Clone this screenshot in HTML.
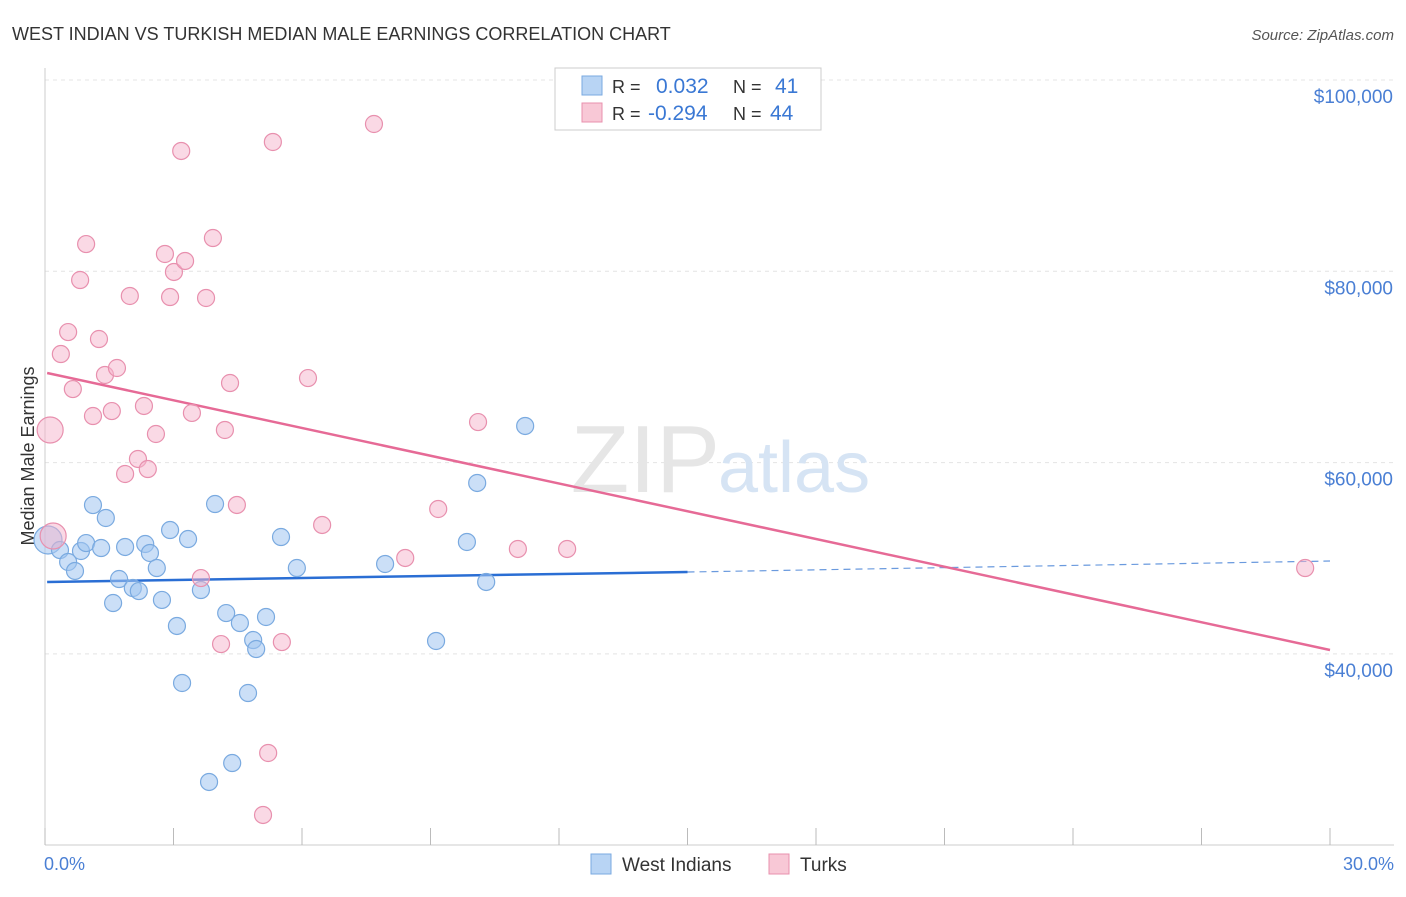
<!DOCTYPE html>
<html><head><meta charset="utf-8"><style>
body{margin:0;background:#fff;font-family:"Liberation Sans",sans-serif;}
svg text{font-family:"Liberation Sans",sans-serif;}
</style></head><body>
<svg id="c" width="1406" height="892">
<text x="12" y="40" font-size="18" fill="#333">WEST INDIAN VS TURKISH MEDIAN MALE EARNINGS CORRELATION CHART</text>
<text x="1394" y="40" font-size="15" fill="#555" font-style="italic" text-anchor="end">Source: ZipAtlas.com</text>
<g id="grid"></g>
<text x="720" y="492" font-size="96" fill="#e6e6e6" text-anchor="end" font-family="Liberation Serif">ZIP</text>
<text x="718" y="492" font-size="72" fill="#d6e4f4">atlas</text>
<line x1="45" y1="68" x2="45" y2="845" stroke="#ccc"/>
<line x1="45" y1="845" x2="1394" y2="845" stroke="#ccc"/>
<g id="ticks"></g>
<text x="44" y="870" font-size="18" fill="#4a7fd4">0.0%</text>
<text x="1394" y="870" font-size="18" fill="#4a7fd4" text-anchor="end">30.0%</text>
<text transform="translate(34,456) rotate(-90)" font-size="18" fill="#333" text-anchor="middle">Median Male Earnings</text>
<g id="lines"></g>
<g id="pts"></g>
<g>
<rect x="555" y="68" width="266" height="62" fill="#fff" stroke="#ccc"/>
<rect x="582" y="76" width="20" height="19" fill="#b8d4f4" stroke="#7aaae0"/>
<rect x="582" y="103" width="20" height="19" fill="#f8c8d6" stroke="#e890ae"/>
<text y="93" font-size="18" fill="#333"><tspan x="612">R =</tspan><tspan x="656" fill="#3a78d4" font-size="21">0.032</tspan><tspan x="733">N =</tspan><tspan x="775" fill="#3a78d4" font-size="21">41</tspan></text>
<text y="120" font-size="18" fill="#333"><tspan x="612">R =</tspan><tspan x="648" fill="#3a78d4" font-size="21">-0.294</tspan><tspan x="733">N =</tspan><tspan x="770" fill="#3a78d4" font-size="21">44</tspan></text>
</g>
<g>
<rect x="591" y="854" width="20" height="20" fill="#b8d4f4" stroke="#7aaae0"/>
<text x="622" y="871" font-size="19" fill="#333">West Indians</text>
<rect x="769" y="854" width="20" height="20" fill="#f8c8d6" stroke="#e890ae"/>
<text x="800" y="871" font-size="19" fill="#333">Turks</text>
</g>
</svg>
<script>
const yTicks=[100000,80000,60000,40000];
const yTickLabels=["$100,000","$80,000","$60,000","$40,000"];
const blueX=[0.07,0.35,0.54,0.70,0.84,0.96,1.12,1.31,1.42,1.59,1.73,1.87,2.05,2.19,2.34,2.45,2.61,2.73,2.92,3.08,3.20,3.34,3.64,3.83,3.97,4.23,4.37,4.55,4.74,4.86,4.93,5.16,5.51,5.88,7.94,9.13,9.85,10.09,10.30,11.21];
const blueY=[51910,50860,49610,48670,50760,51590,55560,51070,54210,45320,47830,51180,46890,46570,51490,50550,48980,45640,52950,42920,36960,52010,46680,26610,55670,44270,28590,43230,35910,41450,40510,43860,52220,48980,49400,41350,51700,57870,47520,63830];
const pinkX=[0.12,0.19,0.37,0.54,0.65,0.82,0.96,1.12,1.26,1.40,1.56,1.68,1.87,1.98,2.17,2.31,2.40,2.59,2.80,2.92,3.01,3.18,3.27,3.43,3.64,3.76,3.92,4.11,4.20,4.32,4.48,5.21,5.09,5.32,5.53,6.14,6.47,7.68,8.41,9.18,10.11,11.04,12.19,29.42];
const pinkY=[63410,52330,71350,73650,67690,79090,82850,64870,72920,69160,65390,69890,58810,77420,60380,65920,59330,62990,81810,77310,79930,92580,81080,65190,47930,77210,83480,41030,63410,68320,55570,29640,23160,93520,41240,68840,53480,95400,50030,55150,64240,50970,50970,48980];
const blueTrend=[47520,48560,49710];
const pinkTrend=[69370,40410];
const NS="http://www.w3.org/2000/svg";
const xs=p=>45+p*(1285/30);
const ys=v=>80+(100000-v)*(191.3/20000);
function mk(t,a,parent){const e=document.createElementNS(NS,t);for(const k in a)e.setAttribute(k,a[k]);document.getElementById(parent).appendChild(e);return e;}
yTicks.forEach((v,i)=>{
 const l=mk('line',{x1:45,x2:1394,y1:ys(v),y2:ys(v),stroke:'#e4e4e4','stroke-dasharray':'4,4'},'grid');
 
 
 const t=mk('text',{x:1393,y:ys(v)+23,'font-size':19,fill:'#4a7fd4','text-anchor':'end'},'grid');
 t.textContent=yTickLabels[i];
 
 
});
for(let i=0;i<=10;i++){
 const l=mk('line',{x1:xs(i*3),x2:xs(i*3),y1:828,y2:845,stroke:'#bbb'},'ticks');
 
 
}
let l=mk('line',{x1:xs(0.05),y1:ys(blueTrend[0]),x2:xs(15),y2:ys(blueTrend[1]),stroke:'#2a6ed4','stroke-width':2.5},'lines');


l=mk('line',{x1:xs(15),y1:ys(blueTrend[1]),x2:xs(30),y2:ys(blueTrend[2]),stroke:'#6a9ade','stroke-width':1.2,'stroke-dasharray':'7,5'},'lines');


l=mk('line',{x1:xs(0.05),y1:ys(pinkTrend[0]),x2:xs(30),y2:ys(pinkTrend[1]),stroke:'#e66a96','stroke-width':2.5},'lines');


blueX.forEach((x,i)=>{
 const c=mk('circle',{cx:xs(x),cy:ys(blueY[i]),r:i==0?14:8.5,fill:'rgba(160,196,240,0.55)',stroke:'#7aaae0','stroke-width':1.2},'pts');
 
 
});
pinkX.forEach((x,i)=>{
 const c=mk('circle',{cx:xs(x),cy:ys(pinkY[i]),r:(i<2)?13:8.5,fill:'rgba(245,180,204,0.5)',stroke:'#e890ae','stroke-width':1.2},'pts');
 
 
});
</script>
</body></html>
